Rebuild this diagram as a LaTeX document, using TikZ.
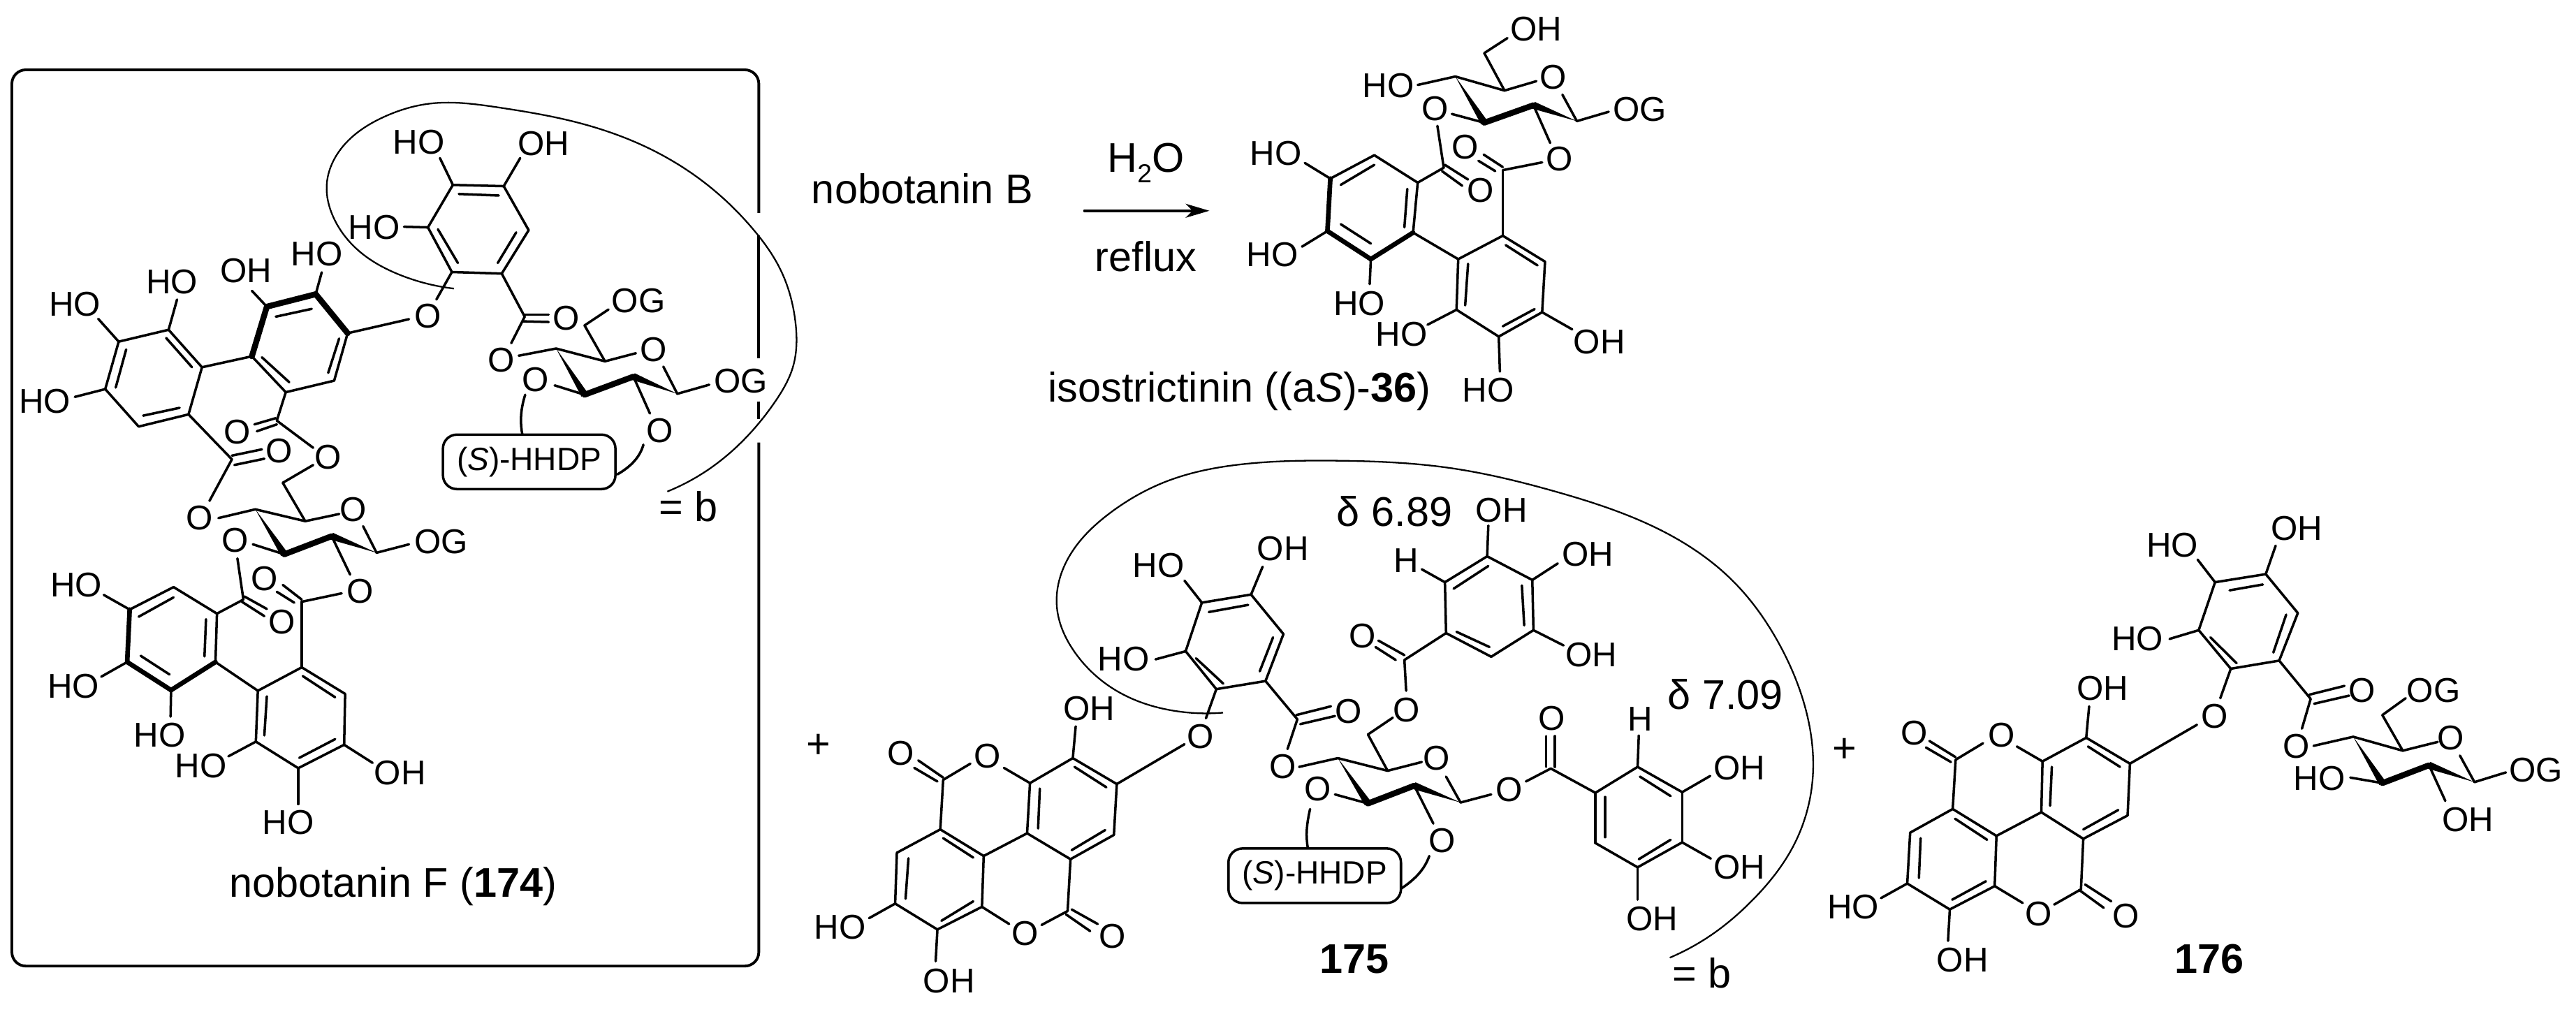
\documentclass[tikz,border=0pt]{standalone}
\usepackage{fontspec}
\setmainfont{Liberation Sans}
\usetikzlibrary{calc,arrows.meta,hobby}
\tikzset{
  bond/.style={line width=1pt,line cap=round,line join=round},
  boldA/.style={line width=2.4pt,line cap=round,line join=round},
  boldB/.style={line width=1.9pt,line cap=round,line join=round},
  thin arc/.style={line width=0.65pt},
  atom/.style={inner sep=0pt,outer sep=0pt,font=\fontsize{14}{14}\selectfont},
  title/.style={inner sep=0pt,outer sep=0pt,anchor=base,font=\fontsize{16.9}{18}\selectfont},
  hhdp/.style={draw,line width=1pt,rounded corners=0.2cm,inner sep=0pt,minimum width=2.47cm,minimum height=0.78cm,font=\fontsize{13.1}{14}\selectfont},
  pxs/.style={x=0.01cm,y=-0.01cm},
  zA/.style={x=0.0071429cm,y=-0.0044643cm,shift={(0cm,-0.6cm)}},
  zB/.style={x=0.0071429cm,y=-0.0044643cm,shift={(0cm,-7.4cm)}},
  zC/.style={x=0.0082921cm,y=-0.0044643cm,shift={(11.2cm,0cm)}},
  zD/.style={x=0.0082921cm,y=-0.0046429cm,shift={(11.2cm,-7.2cm)}},
  zE/.style={x=0.0083418cm,y=-0.0046429cm,shift={(23.8cm,-7.2cm)}},
}
\newcommand\pts[1]{\foreach \n/\xx/\yy in {#1}{\coordinate (\n) at (\xx,\yy);}}
\newcommand\bonds[1]{\foreach \p/\q in {#1}{\draw[bond] (\p)--(\q);}}
\newcommand\boldsA[1]{\foreach \p/\q in {#1}{\draw[boldA] (\p)--(\q);}}
\newcommand\boldsB[1]{\foreach \p/\q in {#1}{\draw[boldB] (\p)--(\q);}}
\newcommand\inner[1]{\foreach \aa/\bb/\cc/\dd in {#1}{\draw[bond] (\aa,\bb)--(\cc,\dd);}}
\newcommand\atm[4]{\node[atom] (#1) at (#2,#3) {#4};}
\newcommand\sub[6]{\node[atom] (#1) at (#2,#3) {#4};\coordinate (#1e) at (#6);\draw[bond] (#5)--(#1e);}
\newcommand\wdg[2]{\fill let \p1=(#1),\p2=(#2),\n1={atan2(\y2-\y1,\x2-\x1)} in (#1)--($(#2)+(\n1+90:0.052cm)$)--($(#2)+(\n1-90:0.052cm)$)--cycle;}
\begin{document}
\begin{tikzpicture}
\useasboundingbox (0,0) rectangle (36.88,-14.48);
% ---------- frame and brackets
\begin{scope}[pxs]
\pts{fa/1087/305,fb/1087/337,fc/1087/513,fd/1087/575,fe/1087/600,ff/1087/634,ftr/1087/100,ftl/17/100,fbl/17/1384,fbr/1087/1384}
\draw[line width=1.1pt,rounded corners=0.2cm] (fa)--(ftr)--(ftl)--(fbl)--(fbr)--(ff);
\draw[line width=1.1pt] (fb)--(fc) (fd)--(fe);
\draw[thin arc,use Hobby shortcut] (1752,1021)..(1680,1018)..(1600,990)..(1540,935)..(1514,870)..(1530,800)..(1590,735)..(1670,690)..(1780,665)..(1916,660)..(2074,670)..(2231,705)..(2380,760)..(2480,830)..(2550,925)..(2590,1030)..(2597,1110)..(2570,1210)..(2510,1290)..(2455,1337)..(2392,1372);
\end{scope}
% ---------- nobotanin F, upper part
\begin{scope}[zA]
\draw[thin arc,use Hobby shortcut] (910,790)..(800,745)..(720,670)..(668,560)..(655,460)..(690,330)..(770,240)..(860,198)..(1000,210)..(1150,255)..(1300,340)..(1420,460)..(1510,600)..(1565,730)..(1595,900)..(1590,1040)..(1555,1150)..(1500,1260)..(1420,1370)..(1338,1440);
\pts{a1/908/458,a2/1010/462,a3/1060/603,a4/1006/742,a5/906/737,a6/858/594}
\bonds{a1/a2,a2/a3,a3/a4,a4/a5,a5/a6,a6/a1}
\inner{920/487/1000/492,1035/610/998/708,878/600/918/708}
\sub{hoA1}{840}{320}{HO}{a1}{882,372}
\sub{ohA2}{1090}{325}{OH}{a2}{1043,372}
\sub{hoA6}{750}{595}{HO}{a6}{810,592}
\atm{oA}{858}{878}{O}
\pts{oAa/875/825,oAb/820/888,kA/1052/880,oBa/1025/965,oBb/1040/1005}
\bonds{a5/oAa,a4/kA,kA/oBa}
\atm{okA}{1135}{885}{O}
\inner{1052/873/1100/873,1048/895/1100/897}
\atm{oB}{1005}{1020}{O}
\pts{sA4/1115/982,sA5/1213/1023,sA1/1358/1127,sA2/1270/1072,sA3/1172/1130,sA6/1172/908,sAoa/1275/997,sAob/1330/1040}
\bonds{oBb/sA4,sA4/sA5,sA5/sAoa,sAob/sA1,sA5/sA6}
\atm{sAo}{1310}{985}{O}
\sub{ogA1}{1485}{1085}{OG}{sA1}{1422,1098}
\sub{ogA6}{1280}{828}{OG}{sA6}{1220,857}
\sub{oA3}{1073}{1082}{O}{sA3}{1112,1100}
\sub{oA2}{1323}{1245}{O}{sA2}{1303,1190}
\node[hhdp] (hhA) at (1061,1345) {(\textit{S})-HHDP};
\pts{hAa/1053/1130,hAb/1047/1255,hAc/1290/1290,hAd/1238/1385}
\draw[bond] (hAa) .. controls (1043,1180) and (1043,1220) .. (hAb);
\draw[bond] (hAc) .. controls (1283,1330) and (1265,1360) .. (hAd);
% biphenyl left ring
\pts{b1/238/960,b2/338/922,b3/405/1042,b4/378/1193,b5/278/1232,b6/211/1112}
\bonds{b1/b2,b2/b3,b3/b4,b4/b5,b5/b6,b6/b1}
\inner{253/985/232/1107,333/948/385/1042,287/1197/360/1172}
\sub{hoB1}{150}{840}{HO}{b1}{197,887}
\sub{hoB2}{345}{768}{HO}{b2}{355,825}
\sub{hoB6}{90}{1152}{HO}{b6}{150,1137}
\pts{c1/505/1007,c2/535/848,c3/633/808,c4/697/933,c5/670/1085,c6/573/1122}
\bonds{b3/c1,c4/c5,c5/c6,c6/c1}
\inner{553/880/625/855,680/950/658/1060,525/1010/580/1090}
\sub{ohC2}{493}{732}{OH}{c2}{505,797}
\sub{hoC3}{635}{680}{HO}{c3}{645,738}
\bonds{c4/oAb}
\pts{kC/555/1213,oCa/628/1300,oCb/628/1355,kCh/567/1412,sB5/612/1535}
\bonds{c6/kC,kC/oCa,oCb/kCh,kCh/sB5}
\inner{553/1205/510/1225,555/1225/515/1247}
\atm{okC}{475}{1250}{O}
\atm{oC}{658}{1330}{O}
\pts{kB/465/1337,oDa/420/1470,oDb/438/1525,sB4/512/1497,sBoa/680/1512}
\bonds{b4/kB,kB/oDa,oDb/sB4,sB4/sB5,sB5/sBoa}
\inner{465/1325/525/1305,470/1355/530/1335}
\atm{okB}{560}{1310}{O}
\atm{oD}{400}{1525}{O}
\atm{sBo}{708}{1498}{O}
\node[title] at (1380,1535) (eqA) {= b};
\boldsA{c2/c3,c3/c4,c1/c2}
\boldsA{sA3/sA2}
\end{scope}
% ---------- nobotanin F, lower part
\begin{scope}[zB]
\pts{sB1/755/115,sB2/665/62,sB3/570/120,sBob/728/30}
\bonds{sBob/sB1}
\sub{ogB1}{885}{80}{OG}{sB1}{820,88}
\sub{oB3}{472}{75}{O}{sB3}{507,88}
\pts{d1/348/225,d2/435/310,d3/432/465,d4/343/555,d5/255/465,d6/260/297,kD/488/265,oB3f/476/133}
\bonds{d1/d2,d2/d3,d6/d1,d2/kD,oB3f/kD}
\inner{278/320/348/258,413/328/410/447,282/445/340/505,490/255/535/295,485/272/530/318,605/265/567/218,590/275/555/240}
\atm{okD}{565}{337}{O}
\sub{hoD6}{153}{218}{HO}{d6}{208,250}
\sub{hoD5}{147}{543}{HO}{d5}{203,512}
\sub{hoD4}{320}{700}{HO}{d4}{342,640}
\pts{e1/517/557,e2/605/482,e3/692/567,e4/690/730,e5/598/805,e6/513/720,kE/605/272,oEa/685/245,oEb/702/185}
\bonds{d3/e1,e1/e2,e2/e3,e3/e4,e4/e5,e5/e6,e6/e1,e2/kE,kE/oEa,sB2/oEb}
\inner{607/510/672/578,600/772/672/712,535/575/530/700}
\atm{okE}{530}{198}{O}
\atm{oE}{722}{238}{O}
\sub{hoE6}{403}{797}{HO}{e6}{458,767}
\sub{ohE4}{802}{820}{OH}{e4}{747,788}
\sub{hoE5}{578}{978}{HO}{e5}{598,920}
\node[title] (tF) at (788,1218) {nobotanin F (\textbf{174})};
\boldsA{sB3/sB2}
\boldsB{d3/d4,d4/d5,d5/d6}
\end{scope}
% ---------- reaction and isostrictinin
\begin{scope}[zC]
\node[title] (tB) at (242,652) {nobotanin B};
\node[title] (tW) at (628,552) {H\raisebox{-0.15cm}{\fontsize{10.6}{11}\selectfont 2}O};
\node[title] (tR) at (628,868) {reflux};
\pts{arA/522/675,arB/738/675}
\draw[bond,-{Stealth[length=0.34cm,width=0.2cm,inset=0.1cm]}] (arA)--(arB);
\pts{sC4/1163/245,sC5/1248/290,sC1/1373/388,sC2/1298/337,sC3/1213/393,sC6/1213/170,sCoa/1303/260,sCob/1348/303}
\bonds{sC4/sC5,sC5/sCoa,sCob/sC1,sC5/sC6}
\atm{sCo}{1332}{248}{O}
\sub{ohC6}{1303}{92}{OH}{sC6}{1253,122}
\sub{hoC4}{1047}{275}{HO}{sC4}{1098,272}
\sub{ogC1}{1482}{350}{OG}{sC1}{1428,358}
\sub{oC3}{1128}{347}{O}{sC3}{1157,365}
\pts{f1/1023/497,f2/1098/585,f3/1090/745,f4/1017/830,f5/942/740,f6/947/572,kF/1143/537,oC3f/1132/403}
\bonds{f1/f2,f2/f3,f6/f1,f2/kF,oC3f/kF}
\inner{965/592/1023/528,1080/605/1075/728,965/718/1017/780,1145/528/1185/575,1140/548/1175/595,1245/535/1212/495,1232/548/1203/515}
\atm{okF}{1207}{610}{O}
\sub{hoF6}{853}{490}{HO}{f6}{903,522}
\sub{hoF5}{847}{815}{HO}{f5}{898,790}
\sub{hoF4}{997}{972}{HO}{f4}{1015,910}
\pts{g1/1168/830,g2/1245/755,g3/1318/838,g4/1313/1000,g5/1238/1078,g6/1165/992,kG/1245/545,oGa/1313/520,oGb/1327/458}
\bonds{f3/g1,g1/g2,g2/g3,g3/g4,g4/g5,g5/g6,g6/g1,g2/kG,kG/oGa,sC2/oGb}
\inner{1250/785/1305/850,1245/1045/1300/990,1185/845/1180/978}
\atm{okG}{1180}{470}{O}
\atm{oG}{1343}{510}{O}
\sub{hoG6}{1070}{1070}{HO}{g6}{1115,1040}
\sub{ohG4}{1412}{1095}{OH}{g4}{1365,1055}
\sub{hoG5}{1220}{1250}{HO}{g5}{1240,1190}
\node[title] (tI) at (790,1288) {isostrictinin ((a\textit{S})-\textbf{36})};
\boldsA{sC3/sC2}
\boldsB{f3/f4,f4/f5,f5/f6}
\end{scope}
% ---------- compound 175
\begin{scope}[zD]
\node[atom,font=\fontsize{16.9}{18}\selectfont] (plA) at (63,750) {+};
\pts{p1/725/308,p2/810/283,p3/866/405,p4/835/550,p5/750/575,p6/697/458}
\bonds{p1/p2,p2/p3,p3/p4,p4/p5,p5/p6,p6/p1}
\inner{737/337/805/315,848/415/825/520,715/480/762/558}
\sub{hoP1}{650}{192}{HO}{p1}{695,240}
\sub{ohP2}{865}{142}{OH}{p2}{830,197}
\sub{hoP6}{590}{483}{HO}{p6}{645,483}
\sub{oP}{723}{722}{O}{p5}{732,665}
\pts{oPb/695/745,q1/578/868,kP/890/668,oQa/873/760,oQb/893/815}
\bonds{oPb/q1,p4/kP,kP/oQa}
\inner{888/655/948/628,895/683/955/658}
\atm{okP}{978}{643}{O}
\atm{oQ}{865}{815}{O}
\pts{sD4/960/788,sD5/1046/827,sD1/1172/925,sD2/1092/873,sD3/1012/928,sD6/1012/715,sDoa/1105/800,sDob/1147/845}
\bonds{oQb/sD4,sD4/sD5,sD5/sDoa,sDob/sD1,sD5/sD6}
\atm{sDo}{1130}{787}{O}
\sub{oR}{1078}{640}{O}{sD6}{1055,663}
\pts{oRb/1078/580,kR/1075/485}
\bonds{oRb/kR}
\inner{1075/470/1030/425,1060/485/1025/445}
\atm{okR}{1002}{410}{O}
\pts{r1/1145/245,r2/1218/165,r3/1296/238,r4/1298/393,r5/1225/475,r6/1147/402}
\bonds{r1/r2,r2/r3,r3/r4,r4/r5,r5/r6,r6/r1,kR/r6}
\inner{1160/265/1220/195,1278/255/1282/378,1165/398/1222/445}
\sub{hR}{1078}{178}{H}{r1}{1105,205}
\sub{ohR2}{1243}{22}{OH}{r2}{1220,70}
\sub{ohR3}{1392}{158}{OH}{r3}{1340,187}
\sub{ohR4}{1398}{470}{OH}{r4}{1350,440}
\node[title] (dA) at (1058,72) {δ 6.89};
\sub{oD3}{925}{883}{O}{sD3}{955,900}
\sub{oD2}{1140}{1042}{O}{sD2}{1125,990}
\node[hhdp] (hhD) at (920,1151) {(\textit{S})-HHDP};
\pts{hDa/912/945,hDb/908/1065,hDc/1118/1090,hDd/1070/1190}
\draw[bond] (hDa) .. controls (905,1000) and (905,1030) .. (hDb);
\draw[bond] (hDc) .. controls (1110,1130) and (1095,1160) .. (hDd);
\sub{oS}{1256}{885}{O}{sD1}{1225,900}
\pts{oSb/1285/860,kS/1328/820,s1/1405/895,s2/1478/815,s3/1555/893,s4/1555/1048,s5/1478/1125,s6/1405/1050}
\bonds{oSb/kS,kS/s1,s1/s2,s2/s3,s3/s4,s4/s5,s5/s6,s6/s1}
\inner{1320/815/1320/720,1335/815/1335/720,1482/845/1535/905,1480/1100/1535/1040,1422/908/1422/1032}
\atm{okS}{1330}{665}{O}
\sub{hS}{1483}{668}{H}{s2}{1480,718}
\sub{ohS5}{1503}{1285}{OH}{s5}{1478,1225}
\node[title] (t175) at (988,1452) {\textbf{175}};
% ellagic part
\pts{ta/428/865,tb/502/788,tc/578/868,td/573/1025,te/498/1100,tf/423/1020,tg/348/1090,th/273/1008,ti/198/1080,tj/195/1237,tk/268/1317,tl/345/1247}
\bonds{ta/tb,tb/tc,tc/td,td/te,te/tf,tf/ta,tf/tg,tg/th,th/ti,ti/tj,tj/tk,tk/tl,tl/tg,tc/q1}
\inner{505/815/560/878,558/1010/500/1072,445/882/442/1005,278/1035/330/1095,218/1097/213/1222,275/1290/330/1230}
\pts{tka/278/855,tkb/493/1260,toa/383/818,tob/325/805,toc/392/1300,tod/448/1303}
\bonds{ta/toa,tob/tka,tka/th,tl/toc,tod/tkb,tkb/te}
\atm{tO}{355}{782}{O}
\atm{tOb}{420}{1330}{O}
\inner{278/848/235/795,268/860/228/818,500/1255/545/1300,490/1270/532/1322}
\atm{tOc}{205}{772}{O}
\atm{tOd}{570}{1338}{O}
\sub{ohTb}{530}{635}{OH}{tb}{507,690}
\sub{hoTj}{100}{1310}{HO}{tj}{150,1282}
\sub{ohTk}{288}{1475}{OH}{tk}{265,1415}
\boldsA{sD3/sD2}
\end{scope}
% ---------- compound 176 and remaining labels
\begin{scope}[zE]
\node[title] (dB) at (108,637) {δ 7.09};
\sub{ohS3}{132}{818}{OH}{s3}{82,843}
\sub{ohS4}{132}{1125}{OH}{s4}{83,1098}
\node[title] (eqB) at (68,1497) {= b};
\node[atom,font=\fontsize{16.9}{18}\selectfont] (plB) at (313,765) {+};
\pts{va/652/798,vb/727/725,vc/802/805,vd/798/965,ve/722/1037,vf/650/955,vg/573/1028,vh/498/945,vi/425/1018,vj/420/1175,vk/493/1255,vl/570/1183}
\bonds{va/vb,vb/vc,vc/vd,vd/ve,ve/vf,vf/va,vf/vg,vg/vh,vh/vi,vi/vj,vj/vk,vk/vl,vl/vg}
\inner{730/752/785/815,782/948/722/1008,668/815/665/935,502/975/557/1040,443/1035/440/1158,497/1225/555/1168}
\pts{vka/503/793,vkb/718/1193,voa/608/752,vob/550/742,voc/618/1235,vod/672/1240}
\bonds{va/voa,vob/vka,vka/vh,vl/voc,vod/vkb,vkb/ve}
\atm{vO}{582}{718}{O}
\atm{vOb}{645}{1268}{O}
\inner{503/785/458/735,495/800/452/755,725/1178/770/1230,715/1195/757/1250}
\atm{vOc}{432}{710}{O}
\atm{vOd}{795}{1275}{O}
\sub{ohVb}{755}{572}{OH}{vb}{732,628}
\sub{hoVj}{327}{1247}{HO}{vj}{375,1220}
\sub{ohVk}{515}{1412}{OH}{vk}{490,1352}
\sub{oV}{947}{658}{O}{vc}{917,685}
\pts{u1/948/245,u2/1035/220,u3/1090/340,u4/1058/487,u5/975/512,u6/920/393,oVb/957/603}
\bonds{u1/u2,u2/u3,u3/u4,u4/u5,u5/u6,u6/u1,u5/oVb}
\inner{973/270/1030/252,1070/345/1048/462,940/415/985/495}
\sub{hoU1}{875}{130}{HO}{u1}{918,175}
\sub{ohU2}{1088}{78}{OH}{u2}{1052,132}
\sub{hoU6}{815}{420}{HO}{u6}{870,420}
\pts{kU/1112/605,oWa/1097/697,oWb/1117/750}
\bonds{u4/kU,kU/oWa}
\inner{1110/592/1170/565,1118/620/1178/595}
\atm{okU}{1200}{580}{O}
\atm{oW}{1087}{752}{O}
\pts{sE4/1185/722,sE5/1270/765,sE1/1393/862,sE2/1315/810,sE3/1235/865,sE6/1235/655,sEoa/1330/738,sEob/1368/780}
\bonds{oWb/sE4,sE4/sE5,sE5/sEoa,sEob/sE1,sE5/sE6}
\atm{sEo}{1352}{725}{O}
\sub{ogE1}{1498}{825}{OG}{sE1}{1447,832}
\sub{ogE6}{1323}{578}{OG}{sE6}{1275,603}
\sub{hoE3}{1127}{850}{HO}{sE3}{1180,848}
\sub{ohE2}{1382}{978}{OH}{sE2}{1343,920}
\node[title] (t176) at (938,1452) {\textbf{176}};
\boldsA{sE3/sE2}
\end{scope}
% ---------- wedges
\wdg{sA4}{sA3}\wdg{sA1}{sA2}
\wdg{sB4}{sB3}\wdg{sB1}{sB2}
\wdg{sC4}{sC3}\wdg{sC1}{sC2}
\wdg{sD4}{sD3}\wdg{sD1}{sD2}
\wdg{sE4}{sE3}\wdg{sE1}{sE2}
\end{tikzpicture}
\end{document}
